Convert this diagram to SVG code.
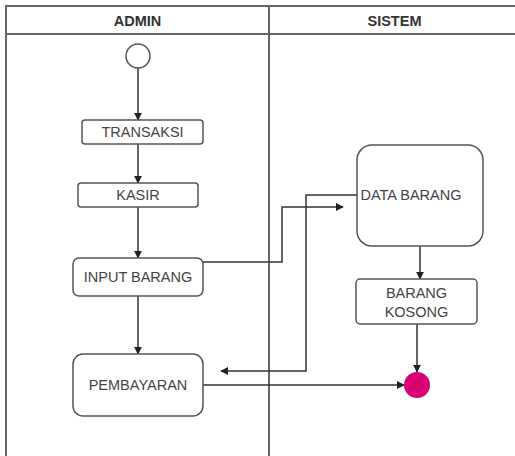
<svg xmlns="http://www.w3.org/2000/svg" width="515" height="456" viewBox="0 0 515 456">
  <defs>
    <marker id="arrow" viewBox="0 0 10 10" refX="9" refY="5" markerWidth="8" markerHeight="8" markerUnits="userSpaceOnUse" orient="auto">
      <path d="M0,0 L10,5 L0,10 z" fill="#222"/>
    </marker>
  </defs>
  <style>
    .lane { fill: none; stroke: #666; stroke-width: 2; }
    .head { font-family: "Liberation Sans", Arial, sans-serif; font-weight: bold; font-size: 14.5px; fill: #333; text-anchor: middle; }
    .box { fill: #fff; stroke: #555; stroke-width: 1.5; }
    .label { font-family: "Liberation Sans", Arial, sans-serif; font-size: 14.5px; fill: #444; text-anchor: middle; }
    .conn { fill: none; stroke: #333; stroke-width: 1.5; marker-end: url(#arrow); }
  </style>
  <rect width="515" height="456" fill="#fff"/>

  <!-- swimlanes -->
  <g id="lanes">
    <rect class="lane" x="6" y="6" width="520" height="470"/>
    <line class="lane" x1="6" y1="34" x2="526" y2="34"/>
    <line class="lane" x1="269" y1="6" x2="269" y2="476"/>
    <text class="head" x="137.5" y="26">ADMIN</text>
    <text class="head" x="394.5" y="26">SISTEM</text>
  </g>

  <!-- connectors -->
  <g id="connectors">
    <path class="conn" d="M138,68 L138,120"/>
    <path class="conn" d="M138,144 L138,183"/>
    <path class="conn" d="M138,207 L138,258"/>
    <path class="conn" d="M138,296 L138,354"/>
    <path class="conn" d="M203,262 L282,262 L282,207 L343,207"/>
    <path class="conn" d="M357,195 L306,195 L306,371 L221,371"/>
    <path class="conn" d="M420,246 L420,279"/>
    <path class="conn" d="M417,324 L417,372"/>
    <path class="conn" d="M203,385 L404,385"/>
  </g>

  <g id="start">
    <circle cx="138" cy="56" r="12" fill="#fff" stroke="#555" stroke-width="1.5"/>
  </g>

  <g id="transaksi">
    <rect class="box" x="82" y="120" width="121" height="24" rx="3"/>
    <text class="label" x="142.5" y="137">TRANSAKSI</text>
  </g>

  <g id="kasir">
    <rect class="box" x="78" y="183" width="120" height="24" rx="3"/>
    <text class="label" x="138" y="200">KASIR</text>
  </g>

  <g id="input-barang">
    <rect class="box" x="73" y="258" width="130" height="38" rx="6"/>
    <text class="label" x="138" y="282">INPUT BARANG</text>
  </g>

  <g id="pembayaran">
    <rect class="box" x="73" y="354" width="130" height="62" rx="10"/>
    <text class="label" x="138" y="390">PEMBAYARAN</text>
  </g>

  <g id="data-barang">
    <rect class="box" x="357" y="145" width="126" height="101" rx="15"/>
    <text class="label" x="411" y="200">DATA BARANG</text>
  </g>

  <g id="barang-kosong">
    <rect class="box" x="356" y="279" width="121" height="45" rx="4"/>
    <text class="label" x="416.5" y="298">BARANG</text>
    <text class="label" x="416.5" y="317">KOSONG</text>
  </g>

  <g id="end">
    <circle cx="417" cy="385" r="13" fill="#d80073"/>
  </g>
</svg>
